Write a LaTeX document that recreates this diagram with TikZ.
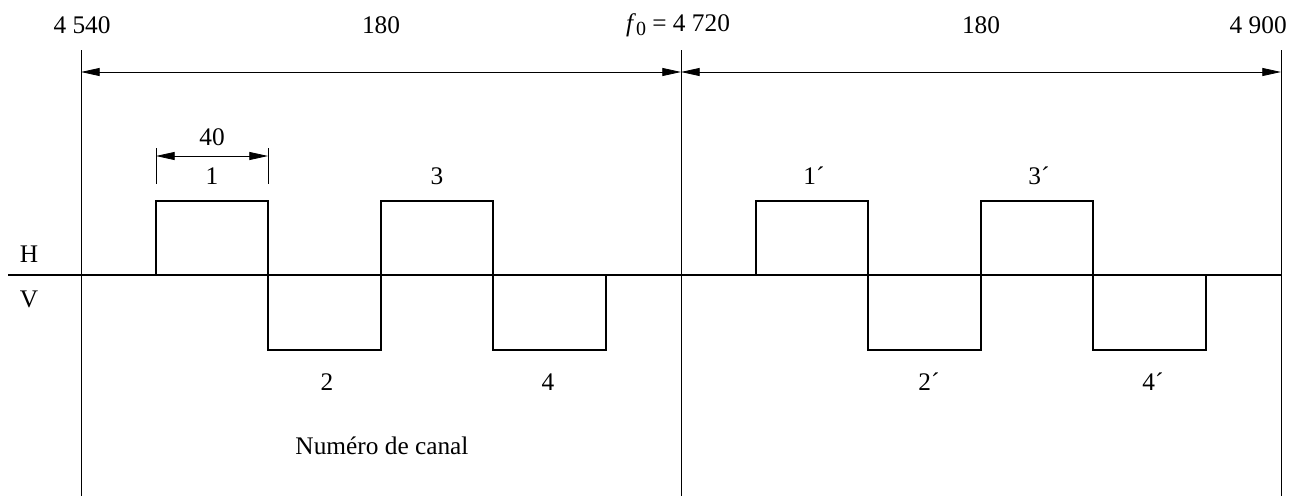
\documentclass[tikz,border=0pt]{standalone}
\usepackage{fontspec}
\setmainfont{Liberation Serif}
\usetikzlibrary{arrows.meta}
\begin{document}
\begin{tikzpicture}[x=0.75pt,y=-0.75pt,
  lbl/.style={inner sep=0pt,font=\fontsize{19}{22}\selectfont},
  thin/.style={line width=0.6pt},
  sig/.style={line width=1.3pt,line join=miter},
  dim/.style={line width=0.6pt,{Triangle[length=14pt,width=6pt]}-{Triangle[length=14pt,width=6pt]}}]
\useasboundingbox (0,0) rectangle (1304,496);
% frequency verticals
\coordinate (a0) at (81,50); \coordinate (a1) at (81,496);
\coordinate (b0) at (681,50); \coordinate (b1) at (681,496);
\coordinate (c0) at (1281,50); \coordinate (c1) at (1281,496);
\draw[thin] (a0) -- (a1);
\draw[thin] (b0) -- (b1);
\draw[thin] (c0) -- (c1);
% top dimension arrows
\coordinate (da) at (81,72); \coordinate (db) at (681,72); \coordinate (dc) at (1281,72);
\draw[dim] (da) -- (db);
\draw[dim] (db) -- (dc);
% labels top
\node[lbl] (l4540) at (82,25) {4 540};
\node[lbl] (l180a) at (381,25) {180};
\node[lbl] (lf0) at (678,25) {\textit{f}\raisebox{-0.4ex}{\fontsize{15}{17}\selectfont 0} = 4 720};
\node[lbl] (l180b) at (981,25) {180};
\node[lbl,anchor=east] (l4900) at (1287,25) {4 900};
% 40 dimension
\coordinate (e0) at (156,148); \coordinate (e1) at (156,184);
\coordinate (f0) at (268,148); \coordinate (f1) at (268,184);
\draw[thin] (e0) -- (e1);
\draw[thin] (f0) -- (f1);
\coordinate (g0) at (156,156); \coordinate (g1) at (268,156);
\draw[dim] (g0) -- (g1);
\node[lbl] (l40) at (212,137) {40};
% baseline
\coordinate (h0) at (8,275); \coordinate (h1) at (1281,275);
\draw[sig] (h0) -- (h1);
% signal boxes
\foreach \o in {0,600} {
  \draw[sig] (156+\o,275) -- (156+\o,201) -- (268+\o,201) -- (268+\o,350) -- (381+\o,350) -- (381+\o,201) -- (493+\o,201) -- (493+\o,350) -- (606+\o,350) -- (606+\o,275);
}
% channel labels
\node[lbl] (n1) at (212,176) {1};
\node[lbl] (n3) at (437,176) {3};
\node[lbl] (n2) at (327,382) {2};
\node[lbl] (n4) at (548,382) {4};
\node[lbl] (n1p) at (814,176) {1´};
\node[lbl] (n3p) at (1039,176) {3´};
\node[lbl] (n2p) at (929,382) {2´};
\node[lbl] (n4p) at (1153,382) {4´};
\node[lbl] (lH) at (29,254) {H};
\node[lbl] (lV) at (29,299) {V};
\node[lbl] (lnc) at (382,446) {Numéro de canal};
\end{tikzpicture}
\end{document}
